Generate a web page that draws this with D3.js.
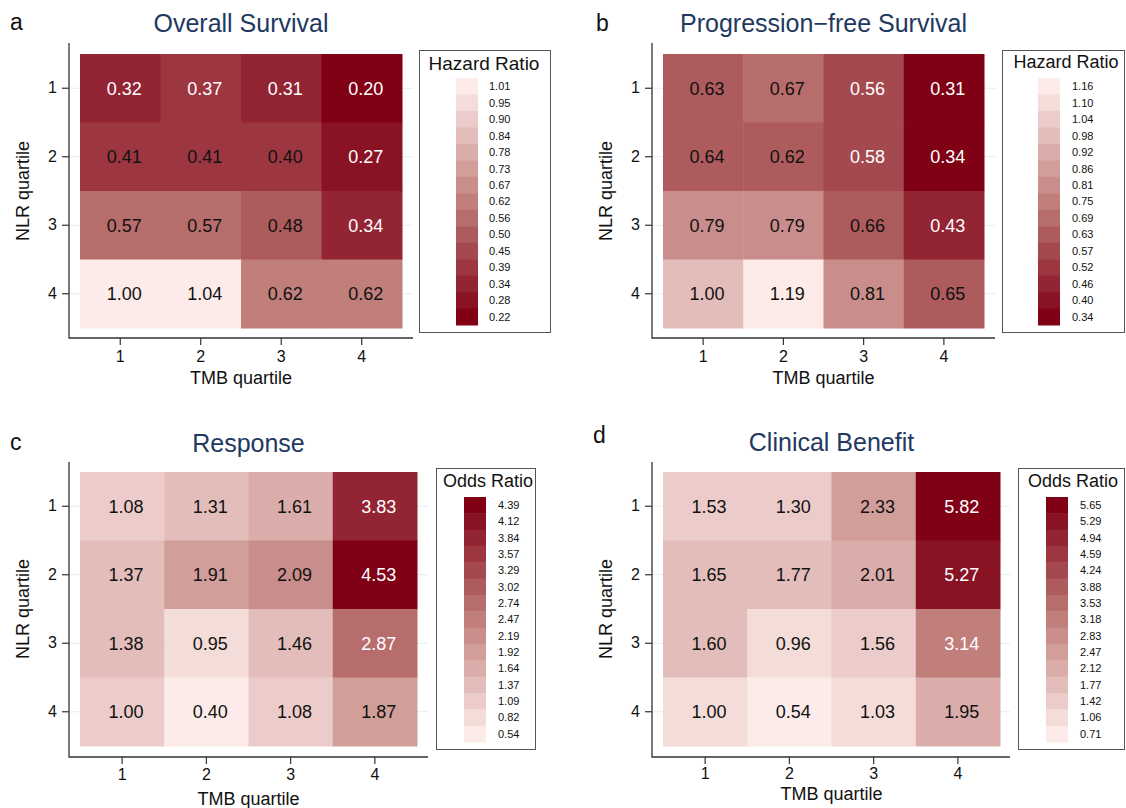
<!DOCTYPE html>
<html>
<head>
<meta charset="utf-8">
<script src="https://cdn.jsdelivr.net/npm/d3@7"></script>
<style>
  body { margin: 0; background: #fff; }
  svg { display: block; font-family: "Liberation Sans", Arial, Helvetica, sans-serif; }
  .axis .domain { display: none; }
  .axis line { stroke: #333; stroke-width: 1.2; }
  .axis text { font-size: 16px; fill: #111; }
</style>
</head>
<body>
<svg id="chart" width="1126" height="808"></svg>
<script>
// quartile categories
const tmbQuartiles = [1, 2, 3, 4];
const nlrQuartiles = [1, 2, 3, 4];

// rows = NLR quartile 1..4, columns = TMB quartile 1..4
const osValues = [
  [0.32, 0.37, 0.31, 0.20],
  [0.41, 0.41, 0.40, 0.27],
  [0.57, 0.57, 0.48, 0.34],
  [1.00, 1.04, 0.62, 0.62]
];
const pfsValues = [
  [0.63, 0.67, 0.56, 0.31],
  [0.64, 0.62, 0.58, 0.34],
  [0.79, 0.79, 0.66, 0.43],
  [1.00, 1.19, 0.81, 0.65]
];
const responseValues = [
  [1.08, 1.31, 1.61, 3.83],
  [1.37, 1.91, 2.09, 4.53],
  [1.38, 0.95, 1.46, 2.87],
  [1.00, 0.40, 1.08, 1.87]
];
const benefitValues = [
  [1.53, 1.30, 2.33, 5.82],
  [1.65, 1.77, 2.01, 5.27],
  [1.60, 0.96, 1.56, 3.14],
  [1.00, 0.54, 1.03, 1.95]
];

// legend labels, top to bottom as printed
const osLegend = ["1.01", "0.95", "0.90", "0.84", "0.78", "0.73", "0.67", "0.62", "0.56", "0.50", "0.45", "0.39", "0.34", "0.28", "0.22"];
const pfsLegend = ["1.16", "1.10", "1.04", "0.98", "0.92", "0.86", "0.81", "0.75", "0.69", "0.63", "0.57", "0.52", "0.46", "0.40", "0.34"];
const responseLegend = ["4.39", "4.12", "3.84", "3.57", "3.29", "3.02", "2.74", "2.47", "2.19", "1.92", "1.64", "1.37", "1.09", "0.82", "0.54"];
const benefitLegend = ["5.65", "5.29", "4.94", "4.59", "4.24", "3.88", "3.53", "3.18", "2.83", "2.47", "2.12", "1.77", "1.42", "1.06", "0.71"];

// light -> dark ramp, 15 steps
const ramp = d3.quantize(d3.piecewise(d3.interpolateRgb, ["#fcebe9", "#c17f7b", "#800016"]), 15);

const TITLE_COLOR = '#223861';

const panels = [
  {
    letter: 'a', letterX: 10, letterY: 30,
    title: 'Overall Survival', titleY: 32,
    values: osValues, legendLabels: osLegend, lowIsDark: true, legendTitle: 'Hazard Ratio',
    whiteText: v => v < 0.39,
    axisX: 69, axisTop: 43, axisRight: 413, axisY: 338,
    cells: { x0: 80, x1: 402, y0: 54, y1: 328 },
    xTickY: 362, xTitleY: 384, yTitleX: 29,
    legend: { x: 419, y: 50, w: 131, h: 282, titleX: 484, titleY: 70, titleSize: 19, swX: 456, swY0: 78, swY1: 325, labelX: 489 }
  },
  {
    letter: 'b', letterX: 596, letterY: 31,
    title: 'Progression\u2212free Survival', titleY: 32,
    values: pfsValues, legendLabels: pfsLegend, lowIsDark: true, legendTitle: 'Hazard Ratio',
    whiteText: v => v < 0.60,
    axisX: 652, axisTop: 43, axisRight: 995, axisY: 338,
    cells: { x0: 663, x1: 984, y0: 54, y1: 328 },
    xTickY: 362, xTitleY: 384, yTitleX: 612,
    legend: { x: 1002, y: 50, w: 122, h: 282, titleX: 1066, titleY: 68, titleSize: 18, swX: 1038, swY0: 78, swY1: 325, labelX: 1072 }
  },
  {
    letter: 'c', letterX: 10, letterY: 450,
    title: 'Response', titleY: 452,
    values: responseValues, legendLabels: responseLegend, lowIsDark: false, legendTitle: 'Odds Ratio',
    whiteText: v => v > 2.5,
    axisX: 69, axisTop: 462, axisRight: 428, axisY: 757,
    cells: { x0: 80, x1: 417, y0: 472, y1: 746 },
    xTickY: 780, xTitleY: 805, yTitleX: 29,
    legend: { x: 436, y: 468, w: 99, h: 281, titleX: 488, titleY: 487, titleSize: 18, swX: 464, swY0: 497, swY1: 742, labelX: 498 }
  },
  {
    letter: 'd', letterX: 593, letterY: 443,
    title: 'Clinical Benefit', titleY: 451,
    values: benefitValues, legendLabels: benefitLegend, lowIsDark: false, legendTitle: 'Odds Ratio',
    whiteText: v => v > 2.5,
    axisX: 652, axisTop: 462, axisRight: 1010, axisY: 757,
    cells: { x0: 663, x1: 1000, y0: 472, y1: 746 },
    xTickY: 779, xTitleY: 800, yTitleX: 612,
    legend: { x: 1018, y: 468, w: 106, h: 281, titleX: 1073, titleY: 487, titleSize: 18, swX: 1046, swY0: 497, swY1: 742, labelX: 1080 }
  }
];

const svg = d3.select('#chart');

function drawPanel(p) {
  const g = svg.append('g');

  // bins centred on the printed legend labels
  const nums = p.legendLabels.map(Number);
  const lo = d3.min(nums), hi = d3.max(nums);
  const step = (hi - lo) / (nums.length - 1);
  const color = d3.scaleQuantize()
    .domain([lo - step / 2, hi + step / 2])
    .range(p.lowIsDark ? ramp.slice().reverse() : ramp);

  const x = d3.scaleBand().domain(tmbQuartiles).range([p.cells.x0, p.cells.x1]);
  const y = d3.scaleBand().domain(nlrQuartiles).range([p.cells.y0, p.cells.y1]);

  // faint grid lines at row ticks
  g.selectAll('.grid')
    .data(nlrQuartiles)
    .join('line')
    .attr('class', 'grid')
    .attr('x1', p.axisX).attr('x2', p.axisRight)
    .attr('y1', d => y(d) + y.bandwidth() / 2)
    .attr('y2', d => y(d) + y.bandwidth() / 2)
    .attr('stroke', '#e4eded').attr('stroke-width', 1);

  const cells = p.values.flatMap((row, i) => row.map((v, j) => ({ nlr: nlrQuartiles[i], tmb: tmbQuartiles[j], v })));

  g.selectAll('.cell')
    .data(cells)
    .join('rect')
    .attr('class', 'cell')
    .attr('x', d => x(d.tmb))
    .attr('y', d => y(d.nlr))
    .attr('width', x.bandwidth() + 0.5)
    .attr('height', y.bandwidth() + 0.5)
    .attr('fill', d => color(d.v));

  g.selectAll('.cell-text')
    .data(cells)
    .join('text')
    .attr('class', 'cell-text')
    .attr('x', d => x(d.tmb) + x.bandwidth() / 2 + 4)
    .attr('y', d => y(d.nlr) + y.bandwidth() / 2)
    .attr('dy', '0.36em')
    .attr('text-anchor', 'middle')
    .attr('font-size', 18)
    .attr('fill', d => p.whiteText(d.v) ? '#fff' : '#111')
    .text(d => d.v.toFixed(2));

  // axes
  g.append('g')
    .attr('class', 'axis')
    .attr('transform', `translate(${p.axisX},0)`)
    .call(d3.axisLeft(y).tickSize(7).tickPadding(5));
  g.append('g')
    .attr('class', 'axis')
    .attr('transform', `translate(0,${p.axisY})`)
    .call(d3.axisBottom(x).tickSize(7).tickPadding(0))
    .selectAll('text')
    .attr('dy', null)
    .attr('y', p.xTickY - p.axisY);

  g.append('path')
    .attr('d', `M${p.axisX},${p.axisTop}V${p.axisY}H${p.axisRight}`)
    .attr('fill', 'none').attr('stroke', '#333').attr('stroke-width', 1.3);

  g.append('text')
    .attr('x', (p.cells.x0 + p.cells.x1) / 2).attr('y', p.xTitleY)
    .attr('text-anchor', 'middle').attr('font-size', 18).attr('fill', '#111')
    .text('TMB quartile');
  g.append('text')
    .attr('transform', `translate(${p.yTitleX},${(p.cells.y0 + p.cells.y1) / 2}) rotate(-90)`)
    .attr('text-anchor', 'middle').attr('font-size', 18).attr('fill', '#111')
    .text('NLR quartile');

  // titles
  g.append('text')
    .attr('x', (p.cells.x0 + p.cells.x1) / 2).attr('y', p.titleY)
    .attr('text-anchor', 'middle').attr('font-size', 25).attr('fill', TITLE_COLOR)
    .text(p.title);
  g.append('text')
    .attr('x', p.letterX).attr('y', p.letterY)
    .attr('font-size', 23).attr('fill', '#111')
    .text(p.letter);

  // legend
  const L = p.legend;
  const lg = g.append('g');
  lg.append('rect')
    .attr('x', L.x + 0.5).attr('y', L.y + 0.5).attr('width', L.w).attr('height', L.h)
    .attr('fill', '#fff').attr('stroke', '#555').attr('stroke-width', 1);
  lg.append('text')
    .attr('x', L.titleX).attr('y', L.titleY)
    .attr('text-anchor', 'middle').attr('font-size', L.titleSize).attr('fill', '#111')
    .text(p.legendTitle);

  const ly = d3.scaleBand().domain(p.legendLabels).range([L.swY0, L.swY1]);
  lg.selectAll('.swatch')
    .data(p.legendLabels)
    .join('rect')
    .attr('class', 'swatch')
    .attr('x', L.swX).attr('y', d => ly(d))
    .attr('width', 22).attr('height', ly.bandwidth() + 0.5)
    .attr('fill', d => color(+d));
  lg.selectAll('.swatch-label')
    .data(p.legendLabels)
    .join('text')
    .attr('class', 'swatch-label')
    .attr('x', L.labelX).attr('y', d => ly(d) + ly.bandwidth() / 2)
    .attr('dy', '0.36em').attr('font-size', 11).attr('fill', '#111')
    .text(d => d);
}

panels.forEach(drawPanel);
</script>
</body>
</html>
